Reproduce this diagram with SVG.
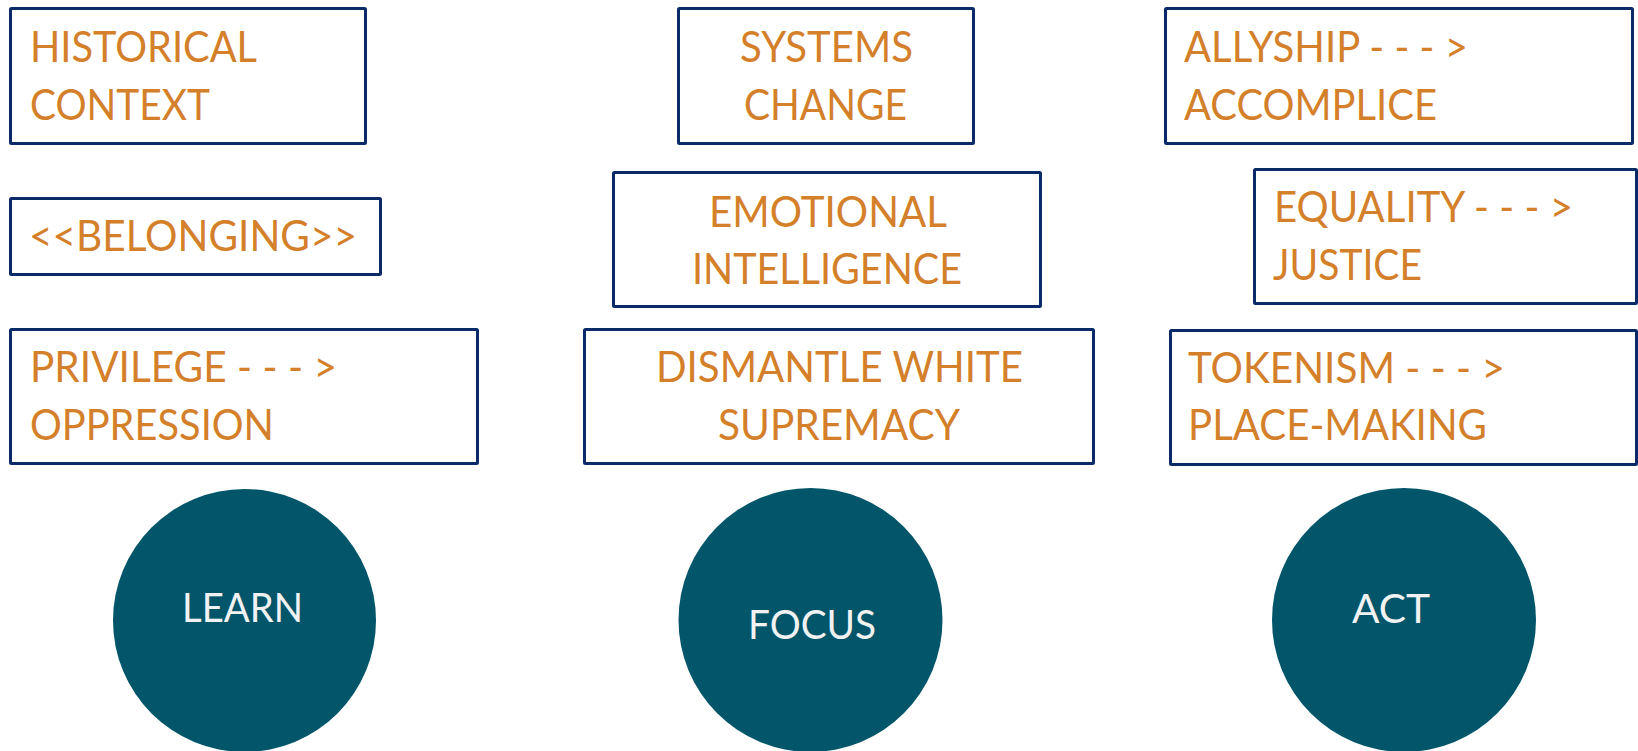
<svg xmlns="http://www.w3.org/2000/svg" width="1638" height="751" viewBox="0 0 1638 751">
<style>
.box{fill:#ffffff;stroke:#0B2A68;stroke-width:3}
.t{font-family:Lato,"Open Sans",sans-serif;font-size:43px;fill:#D4802A}
.c{fill:#03566A}
.w{font-family:Lato,"Open Sans",sans-serif;font-size:40px;fill:#F2F2F2}
</style>
<rect width="1638" height="751" fill="#ffffff"/>
<g id="historical">
<rect class="box" x="10.5" y="8.5" width="355" height="135" rx="1"/>
<text class="t" x="30" y="62" textLength="227" lengthAdjust="spacingAndGlyphs">HISTORICAL</text>
<text class="t" x="30" y="120" textLength="180" lengthAdjust="spacingAndGlyphs">CONTEXT</text>
</g>
<g id="belonging">
<rect class="box" x="10.5" y="198.5" width="370" height="76" rx="1"/>
<text class="t" x="29" y="251" textLength="328" lengthAdjust="spacingAndGlyphs">&lt;&lt;BELONGING&gt;&gt;</text>
</g>
<g id="privilege">
<rect class="box" x="10.5" y="329.5" width="467" height="134" rx="1"/>
<text class="t" x="30" y="382" textLength="307" lengthAdjust="spacingAndGlyphs">PRIVILEGE - - - &gt;</text>
<text class="t" x="30" y="440" textLength="244" lengthAdjust="spacingAndGlyphs">OPPRESSION</text>
</g>
<g id="systems">
<rect class="box" x="678.5" y="8.5" width="295" height="135" rx="1"/>
<text class="t" x="740" y="62" textLength="173" lengthAdjust="spacingAndGlyphs">SYSTEMS</text>
<text class="t" x="744" y="120" textLength="163" lengthAdjust="spacingAndGlyphs">CHANGE</text>
</g>
<g id="emotional">
<rect class="box" x="613.5" y="172.5" width="427" height="134" rx="1"/>
<text class="t" x="709" y="227" textLength="238" lengthAdjust="spacingAndGlyphs">EMOTIONAL</text>
<text class="t" x="692" y="284" textLength="270" lengthAdjust="spacingAndGlyphs">INTELLIGENCE</text>
</g>
<g id="dismantle">
<rect class="box" x="584.5" y="329.5" width="509" height="134" rx="1"/>
<text class="t" x="656" y="382" textLength="367" lengthAdjust="spacingAndGlyphs">DISMANTLE WHITE</text>
<text class="t" x="718" y="440" textLength="242" lengthAdjust="spacingAndGlyphs">SUPREMACY</text>
</g>
<g id="allyship">
<rect class="box" x="1165.5" y="8.5" width="467" height="135" rx="1"/>
<text class="t" x="1184" y="62" textLength="284" lengthAdjust="spacingAndGlyphs">ALLYSHIP - - - &gt;</text>
<text class="t" x="1184" y="120" textLength="253" lengthAdjust="spacingAndGlyphs">ACCOMPLICE</text>
</g>
<g id="equality">
<rect class="box" x="1254.5" y="169.5" width="382" height="134" rx="1"/>
<text class="t" x="1274" y="222" textLength="299" lengthAdjust="spacingAndGlyphs">EQUALITY - - - &gt;</text>
<text class="t" x="1273" y="280" textLength="149" lengthAdjust="spacingAndGlyphs">JUSTICE</text>
</g>
<g id="tokenism">
<rect class="box" x="1170.5" y="330.5" width="466" height="134" rx="1"/>
<text class="t" x="1188" y="383" textLength="317" lengthAdjust="spacingAndGlyphs">TOKENISM - - - &gt;</text>
<text class="t" x="1188" y="440" textLength="299" lengthAdjust="spacingAndGlyphs">PLACE-MAKING</text>
</g>
<g id="learn">
<circle class="c" cx="244.5" cy="620.5" r="131.5"/>
<text class="w" x="182" y="622" textLength="121" lengthAdjust="spacingAndGlyphs">LEARN</text>
</g>
<g id="focus">
<circle class="c" cx="810.5" cy="620" r="132"/>
<text class="w" x="748" y="639" textLength="128" lengthAdjust="spacingAndGlyphs">FOCUS</text>
</g>
<g id="act">
<circle class="c" cx="1404" cy="620" r="132"/>
<text class="w" x="1352" y="623" textLength="78" lengthAdjust="spacingAndGlyphs">ACT</text>
</g>
<g id="connectors"></g>
</svg>
